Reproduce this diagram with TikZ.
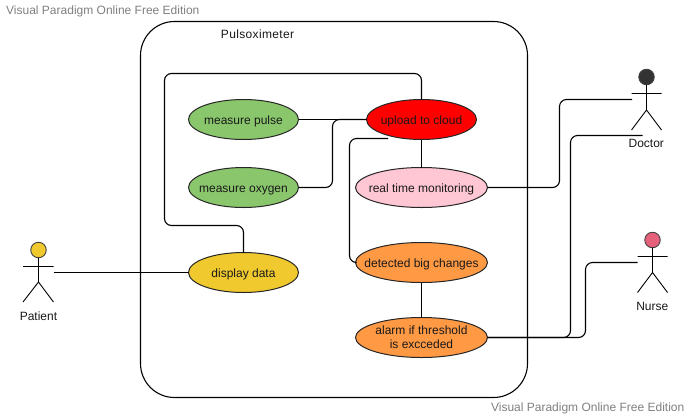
\documentclass[tikz,border=0pt]{standalone}
\usepackage{fontspec}
\setmainfont{Liberation Sans}
\usetikzlibrary{shapes.geometric}
\definecolor{cgreen}{HTML}{8AC76C}
\definecolor{cpink}{HTML}{FFC6D3}
\definecolor{corange}{HTML}{FF9944}
\definecolor{cyellow}{HTML}{F0C92F}
\definecolor{cnurse}{HTML}{E5607A}
\definecolor{cdoctor}{HTML}{333333}
\tikzset{
  x=1pt,y=-1pt,
  every node/.style={font=\fontsize{12}{14}\selectfont,text=black!90},
  usecase/.style={ellipse,draw=black!85,line width=1pt,inner xsep=-25pt,inner ysep=-8pt,outer sep=0pt,minimum height=40pt,align=center},
  one line/.style={text height=11.5pt,text depth=2.5pt},
  small case/.style={usecase,one line,minimum width=110pt},
  wide case/.style={usecase,one line,minimum width=132pt},
  link/.style={draw=black,line width=1.1pt,rounded corners=7pt},
  stick/.style={draw=black,line width=0.9pt},
  head/.style={circle,draw=black!75,line width=0.9pt,inner sep=0pt,outer sep=0pt,minimum size=15.5pt},
  mark text/.style={font=\fontsize{12}{14}\selectfont,text=black!50,inner sep=0pt}
}
\begin{document}
\begin{tikzpicture}
\useasboundingbox (0,0) rectangle (690,418);
\fill[white] (0,0) rectangle (690,418);
% boundary
\node[draw=black,line width=1.1pt,rounded corners=34pt,minimum width=387pt,minimum height=376pt,inner sep=0pt,outer sep=0pt] (system) at (334,209.5) {};
\node[inner sep=0pt,one line,font=\fontsize{12}{14}\selectfont\addfontfeature{LetterSpace=2.8}] (systemlabel) at (257.5,33.5) {Pulsoximeter};
% free ends of connectors
\coordinate (pport) at (53.5,272.5);
\coordinate (dport) at (632,99.5);
\coordinate (dportb) at (642.7,135.5);
\coordinate (nport) at (637.5,262.5);
\coordinate (uploadfoot) at (388,138.5);
% use cases
\node[small case,fill=cgreen] (pulse) at (243.5,119.5) {measure pulse};
\node[small case,fill=cgreen] (oxygen) at (243.5,187.5) {measure oxygen};
\node[small case,fill=red] (upload) at (421.5,119.5) {upload to cloud};
\node[wide case,fill=cpink] (monitor) at (421.5,187.5) {real time monitoring};
\node[small case,fill=cyellow] (display) at (243.5,272.5) {display data};
\node[wide case,fill=corange] (detect) at (421.5,262.5) {detected big changes};
\node[usecase,minimum width=132pt,fill=corange] (alarm) at (421.5,337.5) {alarm if threshold\\is excceded};
% actors
\node[head,fill=cyellow] (phead) at (38.5,250) {};
\coordinate (pfork) at (38.5,282);
\draw[stick] (phead.south) -- (pfork) -- (23,302) (pfork) -- (53.5,302) (23,266.5) -- (53.5,266.5);
\node[inner sep=0pt,one line] (plabel) at (38.5,315.5) {Patient};
\node[head,fill=cdoctor] (dhead) at (646.5,77) {};
\coordinate (dfork) at (646.5,110);
\draw[stick] (dhead.south) -- (dfork) -- (631.5,130) (dfork) -- (661.5,130) (631.5,93.5) -- (661.5,93.5);
\node[inner sep=0pt,one line] (dlabel) at (646.3,143) {Doctor};
\node[head,fill=cnurse] (nhead) at (652.5,240) {};
\coordinate (nfork) at (652.5,272.5);
\draw[stick] (nhead.south) -- (nfork) -- (637.5,292.5) (nfork) -- (667.5,292.5) (637.5,256.5) -- (667.5,256.5);
\node[inner sep=0pt,one line] (nlabel) at (652.3,305.5) {Nurse};
% connectors
\draw[link] (upload.north) -- (421.5,73.5) -- (164.5,73.5) -- (164.5,225.5) -- (243.5,225.5) -- (display.north);
\draw[link] (pulse.east) -- (upload.west);
\draw[link] (oxygen.east) -- (332.5,187.5) -- (332.5,119.5) -- (upload.west);
\draw[link] (upload.south) -- (monitor.north);
\draw[link] (detect.west) -- (349.5,262.5) -- (349.5,138.5) -- (uploadfoot);
\draw[link] (detect.south) -- (alarm.north);
\draw[link] (monitor.east) -- (559.5,187.5) -- (559.5,99.5) -- (dport);
\draw[link] (alarm.east) -- (570.5,337.5) -- (570.5,135.5) -- (dportb);
\draw[link] (alarm.east) -- (585.5,337.5) -- (585.5,262.5) -- (nport);
\draw[link] (pport) -- (display.west);
% watermarks
\node[mark text,anchor=west] (markone) at (6,11) {Visual Paradigm Online Free Edition};
\node[mark text,anchor=east] (marktwo) at (684.5,408) {Visual Paradigm Online Free Edition};
\end{tikzpicture}
\end{document}
